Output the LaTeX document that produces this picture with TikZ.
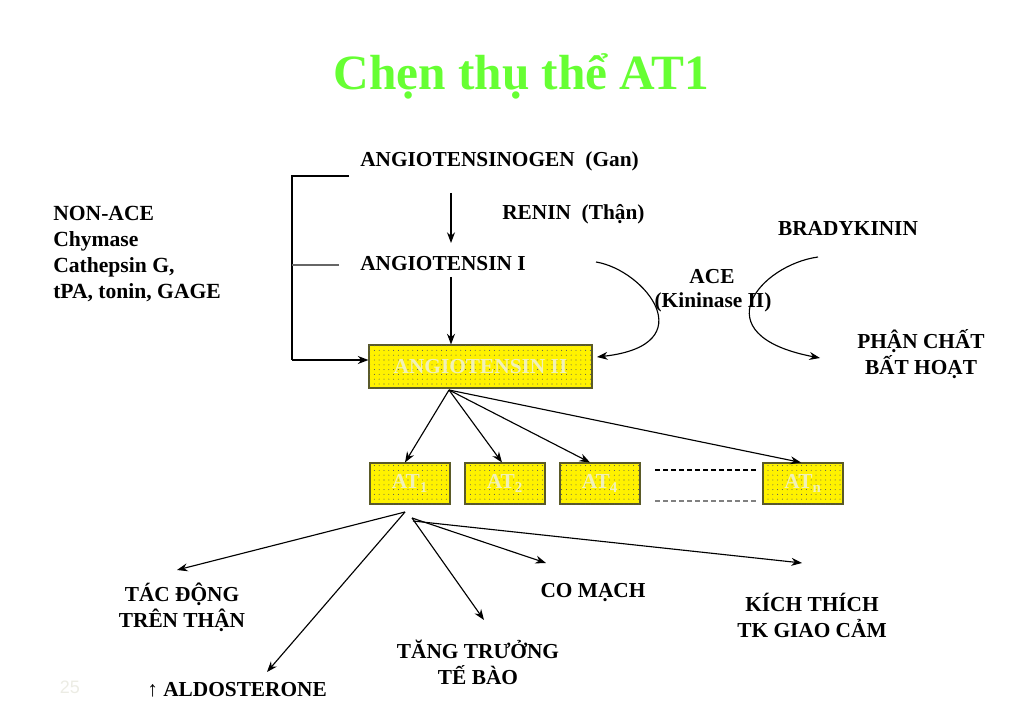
\documentclass[tikz,border=0pt]{standalone}
\usepackage{fontspec}
\setmainfont{Liberation Serif}
\setsansfont{Liberation Sans}
\usetikzlibrary{arrows.meta,patterns.meta,calc}
\definecolor{titlegreen}{RGB}{102,255,51}
\definecolor{boxedge}{RGB}{90,90,40}
\definecolor{boxtext}{RGB}{240,240,185}
\definecolor{pagenum}{RGB}{236,236,228}
\begin{document}
\begin{tikzpicture}[x=0.75pt,y=-0.75pt,
  lbl/.style={font=\fontsize{16}{19}\selectfont\bfseries, inner sep=0, align=center},
  ybox/.style={draw=boxedge, line width=0.8pt, fill=yellow,
    postaction={pattern={Dots[distance=3.6pt,radius=0.4pt]}, pattern color=black!65},
    font=\fontsize{16}{19}\selectfont\bfseries, text=boxtext, inner sep=0},
  atbox/.style={ybox, minimum width=60pt, minimum height=30.75pt},
  arr/.style={-{Stealth[length=8pt,width=6pt]}, line width=0.85pt},
  ln/.style={line width=0.85pt}]
\useasboundingbox (0,0) rectangle (1024,720);

% title
\node[anchor=base, inner sep=0, text=titlegreen, font=\fontsize{37}{40}\selectfont\bfseries] (title) at (521.5,90) {Chẹn thụ thể AT1};

% main chain
\node[lbl, anchor=base west] (angen) at (360,167) {ANGIOTENSINOGEN\ \ (Gan)};
\node[lbl, anchor=base west] (renin) at (502,220) {RENIN\ \ (Thận)};
\node[lbl, anchor=base west] (ang1) at (360,271) {ANGIOTENSIN I};
\node[lbl, anchor=north west, align=left, font=\fontsize{16.2}{19.5}\selectfont\bfseries] (nonace) at (53,206) {NON-ACE\\Chymase\\Cathepsin G,\\tPA, tonin, GAGE};

\node[ybox, minimum width=167.25pt, minimum height=32.25pt] (ang2) at (480.5,366.5) {ANGIOTENSIN II};

\coordinate (a1s) at (451,193);
\coordinate (a1e) at (451,243);
\coordinate (a2s) at (451,277);
\draw[arr] (a1s) -- (a1e);
\draw[arr] (a2s) -- (a2s |- ang2.north);

% bracket
\coordinate (brt) at (349,176);
\coordinate (brm) at (339,265);
\coordinate (brb) at (292,360);
\draw[ln] (brt) -- (292,176) -- (brb);
\draw[ln, draw=black!60] (brm) -- (292,265);
\draw[arr] (brb) -- (ang2.west |- brb);

% ACE
\node[lbl, anchor=base] (ace) at (712,283) {ACE};
\node[lbl, anchor=base] (kin) at (713,307) {(Kininase II)};
\coordinate (aces) at (596,262);
\coordinate (acee) at (597,357);
\draw[arr] (aces) .. controls (645,270) and (705,345) .. (acee);

\node[lbl, anchor=base] (brady) at (848,236) {BRADYKININ};
\node[lbl, anchor=base] (phan) at (921,374) {PHẬN CHẤT\\BẤT HOẠT};
\coordinate (bks) at (818,257);
\coordinate (bke) at (820,358);
\draw[arr] (bks) .. controls (760,265) and (700,335) .. (bke);

% receptors
\node[atbox] (at1) at (410,483.5) {AT\textsubscript{1}};
\node[atbox] (at2) at (505,483.5) {AT\textsubscript{2}};
\node[atbox] (at4) at (600,483.5) {AT\textsubscript{4}};
\node[atbox] (atn) at (803,483.5) {AT\textsubscript{n}};
\coordinate (asrc) at (449,390);
\draw[arr] (asrc) -- ([xshift=-3.75pt]at1.north);
\draw[arr] (asrc) -- ([xshift=-2.25pt]at2.north);
\draw[arr] (asrc) -- ([xshift=-7.5pt]at4.north);
\draw[arr] (asrc) -- ([xshift=-1.5pt]atn.north);

\coordinate (d1s) at (655,470); \coordinate (d1e) at (757,470);
\coordinate (d2s) at (655,501); \coordinate (d2e) at (757,501);
\draw[ln, dash pattern=on 4pt off 2pt] (d1s) -- (d1e);
\draw[ln, draw=black!50, dash pattern=on 4pt off 2pt] (d2s) -- (d2e);

% effects
\node[lbl, anchor=base] (tac) at (182,627) {TÁC ĐỘNG\\TRÊN THẬN};
\node[lbl, anchor=base west] (aldo) at (147,696) {↑ ALDOSTERONE};
\node[lbl, anchor=base] (tang) at (478,684) {TĂNG TRƯỞNG\\TẾ BÀO};
\node[lbl, anchor=base] (co) at (593,597) {CO MẠCH};
\node[lbl, anchor=base] (kich) at (812,637) {KÍCH THÍCH\\TK GIAO CẢM};

\coordinate (e0) at (405,512);
\coordinate (e1) at (412,518);
\coordinate (e2) at (413,521);
\coordinate (t1) at (177,570);
\coordinate (t2) at (267,672);
\coordinate (t3) at (484,620);
\coordinate (t4) at (546,563);
\coordinate (t5) at (802,563);
\draw[arr] (e0) -- (t1);
\draw[arr] (e0) -- (t2);
\draw[arr] (e1) -- (t3);
\draw[arr] (e1) -- (t4);
\draw[arr] (e2) -- (t5);

\node[anchor=center, inner sep=0, text=pagenum, font=\sffamily\fontsize{13.5}{15}\selectfont] (pg) at (70,687) {25};
\end{tikzpicture}
\end{document}
